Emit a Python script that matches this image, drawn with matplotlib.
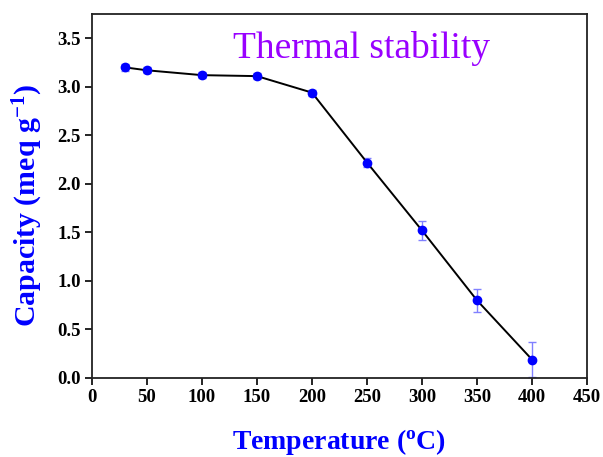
#!/usr/bin/env python3
"""Thermal stability of exchange capacity vs temperature."""

import matplotlib

matplotlib.use("Agg")
import matplotlib.pyplot as plt

temperature = [30, 50, 100, 150, 200, 250, 300, 350, 400]
capacity = [3.20, 3.17, 3.12, 3.11, 2.94, 2.22, 1.52, 0.80, 0.19]
capacity_err = [0.04, 0.03, 0.03, 0.03, 0.03, 0.05, 0.10, 0.12, 0.18]
x_ticks = [0, 50, 100, 150, 200, 250, 300, 350, 400, 450]
y_ticks = [0.0, 0.5, 1.0, 1.5, 2.0, 2.5, 3.0, 3.5]


def main() -> None:
    plt.rcParams["font.family"] = ["Liberation Serif", "DejaVu Serif"]
    plt.rcParams["mathtext.fontset"] = "custom"
    plt.rcParams["mathtext.rm"] = "Liberation Serif:bold"
    plt.rcParams["mathtext.bf"] = "Liberation Serif:bold"
    plt.rcParams["mathtext.default"] = "bf"

    fig = plt.figure(figsize=(6.03, 4.57), dpi=100)
    ax = fig.add_axes([92 / 603, 1 - 378 / 457, (587 - 92) / 603, (378 - 14) / 457])

    ax.errorbar(temperature, capacity, yerr=capacity_err, fmt="none",
                ecolor="#8080ff", elinewidth=1.0, capsize=3, capthick=1.0, zorder=2)
    ax.plot(temperature, capacity, color="black", lw=1.4, zorder=3)
    ax.plot(temperature, capacity, "o", color="#0000ff", ms=6, zorder=4)

    ax.set_xlim(0, 450)
    ax.set_ylim(0, 3.75)
    ax.set_xticks(x_ticks)
    ax.set_yticks(y_ticks)
    ax.set_yticklabels([f"{v:.1f}" for v in y_ticks])
    ax.tick_params(direction="out", length=5, width=1.2, labelsize=13.5, pad=3)
    for lab in ax.get_xticklabels() + ax.get_yticklabels():
        lab.set_fontweight("bold")
    for sp in ax.spines.values():
        sp.set_linewidth(1.3)
        sp.set_color("#222222")

    ax.set_xlabel(r"Temperature ($^{\mathbf{o}}$C)", fontsize=20, fontweight="bold",
                  color="#0000ff")
    ax.set_ylabel(r"Capacity (meq g$^{\mathbf{-1}}$)", fontsize=21.5, fontweight="bold",
                  color="#0000ff")
    ax.xaxis.set_label_coords(0.5, -0.135)
    ax.yaxis.set_label_coords(-0.095, 0.475)

    ax.text(0.545, 0.905, "Thermal stability", transform=ax.transAxes, ha="center",
            va="center", fontsize=27, color="#9900ff")

    fig.savefig("out.png", dpi=100)
    plt.close(fig)


if __name__ == "__main__":
    main()
